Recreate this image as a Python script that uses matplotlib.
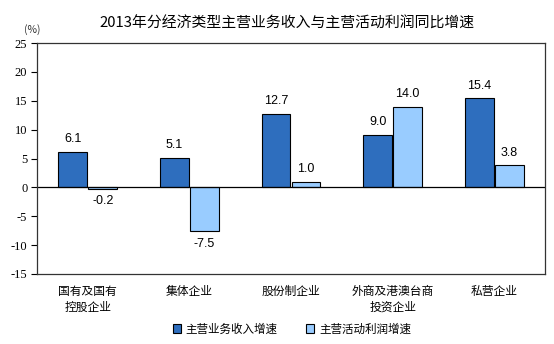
import matplotlib
matplotlib.use("Agg")
import matplotlib.pyplot as plt
import numpy as np

categories = ["国有及国有\n控股企业", "集体企业", "股份制企业", "外商及港澳台商\n投资企业", "私营企业"]
revenue_growth = [6.1, 5.1, 12.7, 9.0, 15.4]
profit_growth = [-0.2, -7.5, 1.0, 14.0, 3.8]
series_names = ["主营业务收入增速", "主营活动利润增速"]
y_ticks = [25, 20, 15, 10, 5, 0, -5, -10, -15]

cjk = ["Noto Sans CJK SC", "DejaVu Sans"]
dark = "#2E6EBE"
light = "#99CCFF"

fig = plt.figure(figsize=(5.54, 3.44), dpi=100)
ax = fig.add_axes([37 / 554, 1 - 274 / 344, (545 - 37) / 554, (274 - 43) / 344])

x = np.arange(len(categories))
w = 0.285
gap = 0.005
b1 = ax.bar(x - w / 2 - gap, revenue_growth, w, color=dark, edgecolor="black", linewidth=0.8)
b2 = ax.bar(x + w / 2 + gap, profit_growth, w, color=light, edgecolor="black", linewidth=0.8)

for bars, vals in ((b1, revenue_growth), (b2, profit_growth)):
    for rect, v in zip(bars, vals):
        cx = rect.get_x() + rect.get_width() / 2
        if v >= 0:
            ax.text(cx, v + 1.2, f"{v:.1f}", ha="center", va="bottom",
                    fontsize=9, family="Liberation Sans")
        else:
            ax.text(cx, v - 1.2, f"{v:.1f}", ha="center", va="top",
                    fontsize=9, family="Liberation Sans")

ax.axhline(0, color="black", linewidth=0.9, zorder=1)
ax.set_xlim(-0.5, len(categories) - 0.5)
ax.set_ylim(-15, 25)
ax.set_yticks(y_ticks)
ax.set_yticklabels([str(t) for t in y_ticks], family="Liberation Serif", fontsize=9)
ax.tick_params(axis="y", direction="out", length=4, width=0.8, pad=3)
ax.set_xticks(x)
ax.set_xticklabels(categories, family=cjk, fontsize=8.5, linespacing=1.3)
ax.tick_params(axis="x", length=0, pad=8)
for s in ax.spines.values():
    s.set_color("#333333")
    s.set_linewidth(0.9)

fig.text(287 / 554, 1 - 24 / 344, "2013年分经济类型主营业务收入与主营活动利润同比增速",
         ha="center", va="center", fontsize=10.7, family=cjk)
fig.text(32 / 554, 1 - 30 / 344, "(%)", ha="center", va="center",
         fontsize=7.5, family=cjk, color="#333333")

leg = fig.legend([b1, b2], series_names, loc="center", ncol=2,
                 bbox_to_anchor=(292 / 554, 1 - 329 / 344), frameon=False,
                 prop={"family": cjk, "size": 8.3}, handlelength=0.7, handleheight=0.7,
                 handletextpad=0.4, columnspacing=2.5)

fig.savefig("out.png", dpi=100)
